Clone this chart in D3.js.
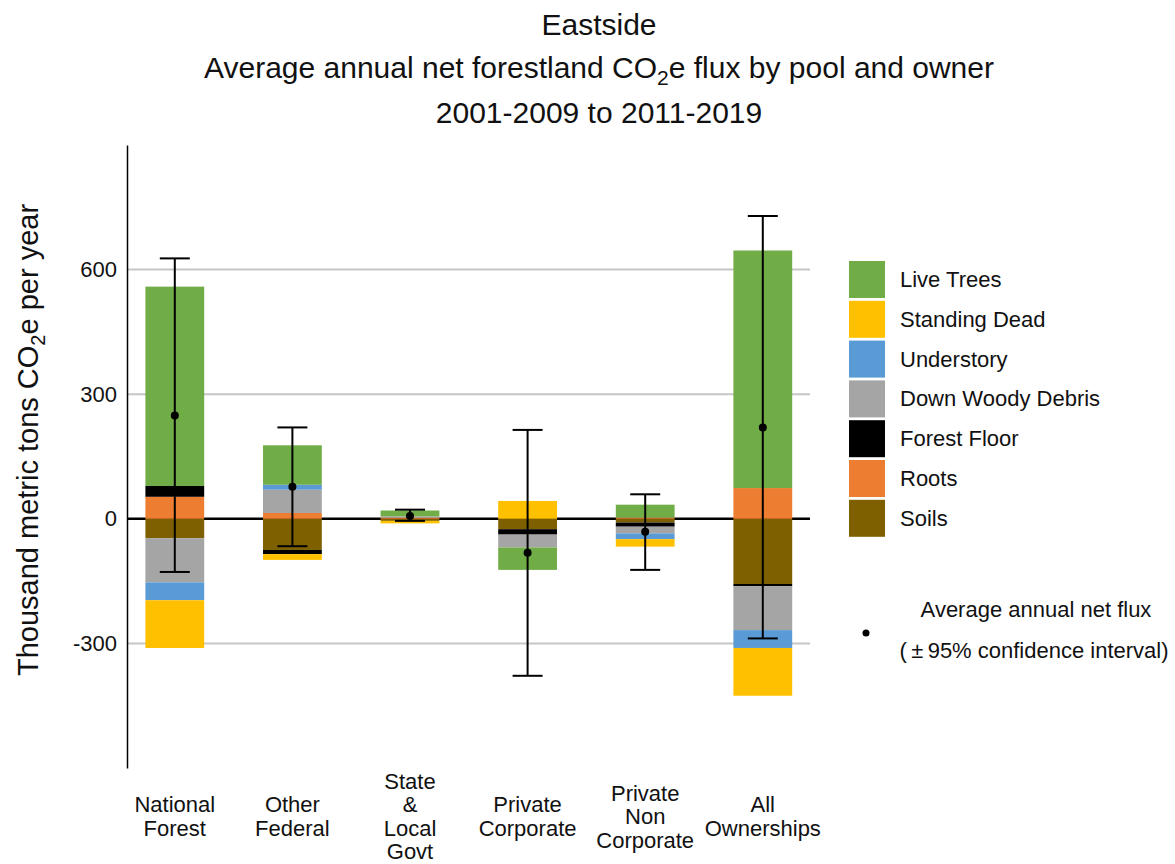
<!DOCTYPE html>
<html><head><meta charset="utf-8">
<script src="https://cdn.jsdelivr.net/npm/d3@7"></script>
<style>body{margin:0;background:#fff;} text{font-family:"Liberation Sans",Arial,sans-serif;fill:#111;}</style>
</head><body><svg id="c" width="1175" height="864"></svg>
<script>
const owners = ["National Forest","Other Federal","State & Local Govt","Private Corporate","Private Non Corporate","All Ownerships"];
const ownerLabels = [["National","Forest"],["Other","Federal"],["State","&","Local","Govt"],["Private","Corporate"],["Private","Non","Corporate"],["All","Ownerships"]];
const pools = ["Live Trees","Standing Dead","Understory","Down Woody Debris","Forest Floor","Roots","Soils"];
const poolColors = ["#70AD47","#FFC000","#5B9BD5","#A5A5A5","#000000","#ED7D31","#7F6000"];
const liveTrees      = [480, 95, 14, -54, 31, 572];
const standingDead   = [-115, -14, -6, 43, -18, -115];
const understory     = [-43, 12, 0, 0, -14, -43];
const downWoodyDebris= [-106, 56, 3, -31, -16, -106];
const forestFloor    = [26, -10, 0, -13, -10, -5];
const roots          = [53, 14, 3, 0, 3, 74];
const soils          = [-47, -75, -5, -25, -9, -157];
const netFlux = [249, 77, 7, -82, -31, 220];
const ciLow   = [-128, -66, -5, -378, -123, -288];
const ciHigh  = [627, 220, 22, 214, 59, 729];
const yTicks = [-300, 0, 300, 600];

const series = [liveTrees, standingDead, understory, downWoodyDebris, forestFloor, roots, soils];
const table = owners.map((o,i)=>{const r={owner:o}; pools.forEach((p,j)=>r[p]=series[j][i]); return r;});

const svg = d3.select("#c");
const x = d3.scaleBand().domain(owners).range([116, 821.6]).paddingInner(0.5).paddingOuter(0.25);
const y = d3.scaleLinear().domain([-600, 900]).range([768, 145]);
const xL = 127, xR = 810;

// gridlines
svg.append("g").selectAll("line").data(yTicks.filter(d=>d!==0)).join("line")
  .attr("x1", xL).attr("x2", xR).attr("y1", d=>y(d)).attr("y2", d=>y(d))
  .attr("stroke", "#c6c6c6").attr("stroke-width", 2);
// zero line
svg.append("line").attr("x1", xL).attr("x2", xR).attr("y1", y(0)).attr("y2", y(0))
  .attr("stroke", "#000").attr("stroke-width", 2.5);

// stacks
const stackKeys = pools.slice().reverse();
const stacked = d3.stack().keys(stackKeys).offset(d3.stackOffsetDiverging)(table);
svg.append("g").selectAll("g").data(stacked).join("g")
  .attr("fill", d=>poolColors[pools.indexOf(d.key)])
  .selectAll("rect").data(d=>d).join("rect")
  .attr("x", d=>x(d.data.owner)).attr("width", x.bandwidth())
  .attr("y", d=>y(Math.max(d[0],d[1]))).attr("height", d=>Math.abs(y(d[0])-y(d[1])));

// y axis
const yAxis = d3.axisLeft(y).tickValues(yTicks).tickSize(0).tickPadding(10).tickFormat(d=>String(d));
const ya = svg.append("g").attr("transform", `translate(${xL},0)`).call(yAxis);
ya.select(".domain").attr("stroke", "#000").attr("stroke-width", 1.5);
ya.selectAll("text").attr("font-size", 22).attr("fill", "#111").attr("font-family", "Liberation Sans, Arial, sans-serif");

// error bars
const eb = svg.append("g").attr("stroke", "#000").attr("stroke-width", 2);
owners.forEach((o,i)=>{
  const cx = x(o) + x.bandwidth()/2;
  eb.append("line").attr("x1", cx).attr("x2", cx).attr("y1", y(ciLow[i])).attr("y2", y(ciHigh[i]));
  eb.append("line").attr("x1", cx-15).attr("x2", cx+15).attr("y1", y(ciLow[i])).attr("y2", y(ciLow[i]));
  eb.append("line").attr("x1", cx-15).attr("x2", cx+15).attr("y1", y(ciHigh[i])).attr("y2", y(ciHigh[i]));
});
svg.append("g").selectAll("circle").data(owners).join("circle")
  .attr("cx", d=>x(d)+x.bandwidth()/2).attr("cy", (d,i)=>y(netFlux[i])).attr("r", 4).attr("fill", "#000");

// category labels
ownerLabels.forEach((lines,i)=>{
  const cx = x(owners[i]) + x.bandwidth()/2;
  const n = lines.length, lh = 23.5, mid = 817;
  const t = svg.append("text").attr("text-anchor","middle").attr("font-size",22);
  lines.forEach((l,k)=>{
    t.append("tspan").attr("x", cx).attr("y", mid + (k-(n-1)/2)*lh + 7).text(l);
  });
});

// y axis title
const yt = svg.append("text").attr("transform","translate(38,440) rotate(-90)").attr("text-anchor","middle").attr("font-size",29);
yt.append("tspan").text("Thousand metric tons CO");
yt.append("tspan").attr("dy",7).attr("font-size",20).text("2");
yt.append("tspan").attr("dy",-7).text("e per year");

// title
const tx = 599;
svg.append("text").attr("x",tx).attr("y",35).attr("text-anchor","middle").attr("font-size",30).text("Eastside");
const t2 = svg.append("text").attr("x",tx).attr("y",78).attr("text-anchor","middle").attr("font-size",30);
t2.append("tspan").text("Average annual net forestland CO");
t2.append("tspan").attr("dy",7).attr("font-size",21).text("2");
t2.append("tspan").attr("dy",-7).text("e flux by pool and owner");
svg.append("text").attr("x",tx).attr("y",123).attr("text-anchor","middle").attr("font-size",30).text("2001-2009 to 2011-2019");

// legend
const lg = svg.append("g").attr("transform","translate(849,261)");
pools.forEach((p,i)=>{
  lg.append("rect").attr("x",0).attr("y",i*39.8).attr("width",36).attr("height",37).attr("fill",poolColors[i]);
  lg.append("text").attr("x",51).attr("y",i*39.8+26).attr("font-size",22).text(p);
});
svg.append("circle").attr("cx",866).attr("cy",633).attr("r",3.5).attr("fill","#000");
svg.append("text").attr("x",1036).attr("y",617).attr("text-anchor","middle").attr("font-size",22).text("Average annual net flux");
svg.append("text").attr("x",1034).attr("y",658).attr("text-anchor","middle").attr("font-size",22).text("(\u2009\u00B1\u200995% confidence interval)");
</script></body></html>
